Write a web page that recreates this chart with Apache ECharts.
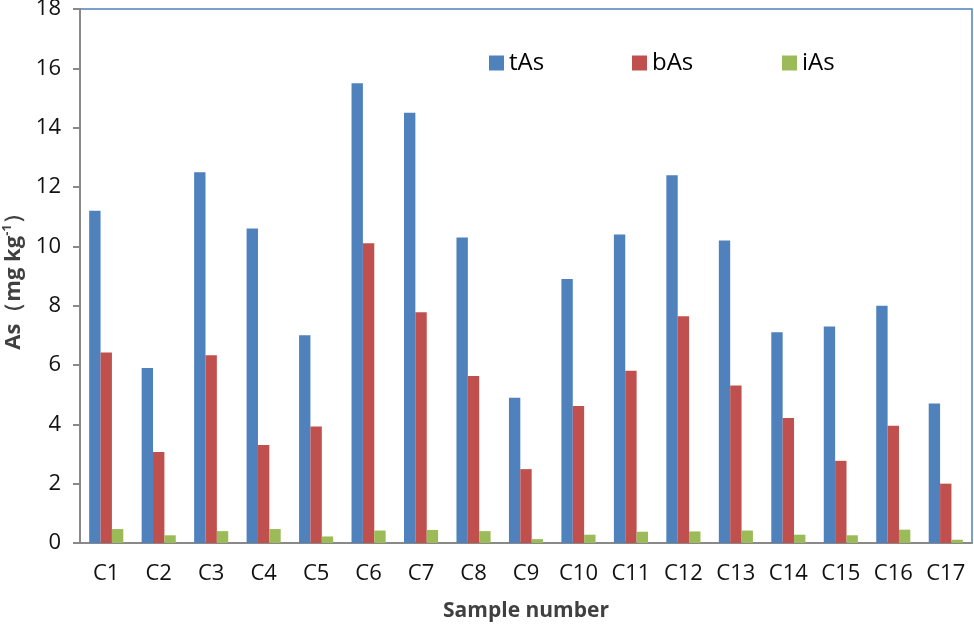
<!DOCTYPE html>
<html lang="en">
<head>
    <meta charset="UTF-8">
    <title>As in samples</title>
    <script src="https://cdn.jsdelivr.net/npm/echarts@6/dist/echarts.min.js"></script>
    <style>
        html, body { margin: 0; padding: 0; background: #fff; }
    </style>
</head>
<body>
<div id="main" style="width: 974px;height:624px;"></div>
<script type="text/javascript">
    var samples = ['C1', 'C2', 'C3', 'C4', 'C5', 'C6', 'C7', 'C8', 'C9', 'C10', 'C11', 'C12', 'C13', 'C14', 'C15', 'C16', 'C17'];
    var tAs = [11.2, 5.9, 12.5, 10.6, 7.0, 15.5, 14.5, 10.3, 4.9, 8.9, 10.4, 12.4, 10.2, 7.1, 7.3, 8.0, 4.7];
    var bAs = [6.42, 3.07, 6.33, 3.3, 3.93, 10.1, 7.78, 5.63, 2.49, 4.62, 5.81, 7.64, 5.31, 4.21, 2.77, 3.95, 2.0];
    var iAs = [0.47, 0.26, 0.4, 0.47, 0.22, 0.42, 0.44, 0.4, 0.13, 0.28, 0.38, 0.39, 0.42, 0.28, 0.26, 0.45, 0.11];

    var font = 'Open Sans';
    var axisGray = '#898989';

    var myChart = echarts.init(document.getElementById('main'));

    function legendAt(name, left) {
        return {
            data: [name],
            left: left,
            top: 46,
            itemWidth: 15,
            itemHeight: 15,
            icon: 'rect',
            textStyle: { fontFamily: font, fontSize: 24, color: '#000' }
        };
    }

    myChart.setOption({
        animation: false,
        color: ['#4f81bd', '#c0504d', '#9bbb59'],
        legend: [legendAt('tAs', 484), legendAt('bAs', 627), legendAt('iAs', 777)],
        grid: {
            left: 80,
            right: 2,
            top: 9,
            bottom: 81,
            outerBoundsMode: 'none',
            containLabel: false,
            show: true,
            borderColor: '#4f81bd',
            borderWidth: 1.5
        },
        xAxis: {
            type: 'category',
            data: samples,
            name: 'Sample number',
            nameLocation: 'middle',
            nameGap: 58,
            nameTextStyle: { fontFamily: font, fontSize: 21, fontWeight: 'bold', color: '#404040' },
            axisLine: { lineStyle: { color: axisGray, width: 2 } },
            axisTick: { length: 6, lineStyle: { color: axisGray, width: 2 } },
            axisLabel: { fontFamily: font, fontSize: 22, color: '#111', margin: 20 }
        },
        yAxis: {
            type: 'value',
            min: 0,
            max: 18,
            interval: 2,
            name: '{a|As（mg kg}{s|-1}{a|）}',
            nameLocation: 'middle',
            nameRotate: 90,
            nameGap: 53,
            nameTextStyle: {
                color: '#404040',
                rich: {
                    a: { fontFamily: font, fontSize: 22, fontWeight: 'bold', color: '#404040' },
                    s: { fontFamily: font, fontSize: 13, fontWeight: 'bold', color: '#404040', padding: [0, 0, 13, 0] }
                }
            },
            splitLine: { show: false },
            axisLine: { show: true, lineStyle: { color: axisGray, width: 2 } },
            axisTick: { show: true, length: 7, lineStyle: { color: axisGray, width: 2 } },
            axisLabel: { fontFamily: font, fontSize: 22, color: '#111', margin: 19 }
        },
        series: [
            { name: 'tAs', type: 'bar', data: tAs, barGap: '0%', barCategoryGap: '35%' },
            { name: 'bAs', type: 'bar', data: bAs, barGap: '0%', barCategoryGap: '35%' },
            { name: 'iAs', type: 'bar', data: iAs, barGap: '0%', barCategoryGap: '35%' }
        ]
    });
</script>
</body>
</html>
